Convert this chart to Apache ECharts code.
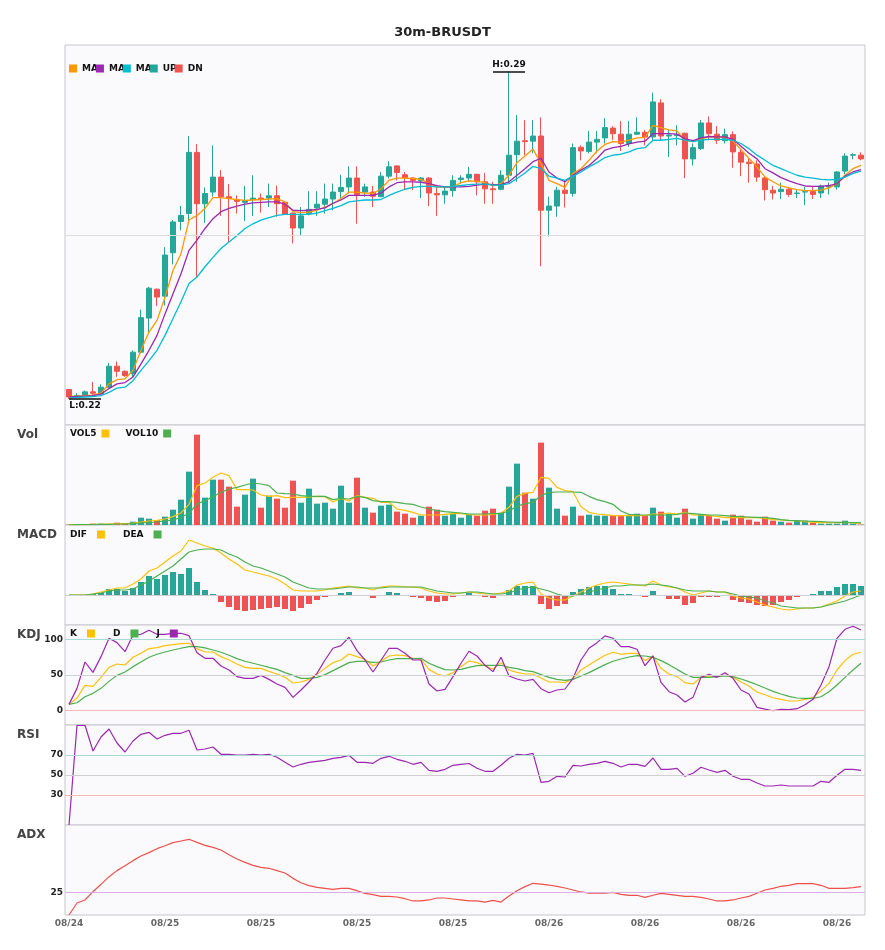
<!DOCTYPE html>
<html>
<head>
<meta charset="utf-8">
<title>30m-BRUSDT</title>
<script src="https://cdn.jsdelivr.net/npm/echarts@6.0.0/dist/echarts.min.js"></script>
<style>
  html, body { margin: 0; padding: 0; background: #fff; }
  #chart { width: 885px; height: 950px; }
</style>
</head>
<body>
<div id="chart"></div>
<script>
// price candles (30m bars)
const opens = [0.2218,0.2202,0.2203,0.2213,0.2209,0.2223,0.2268,0.2257,0.2252,0.2298,
  0.2371,0.2433,0.2418,0.2511,0.2578,0.2595,0.2726,0.2616,0.2641,0.2673,
  0.2631,0.2625,0.2619,0.2625,0.2628,0.2628,0.2633,0.2619,0.2596,0.2564,
  0.2595,0.2607,0.2615,0.2626,0.2642,0.2652,0.2671,0.2641,0.2641,0.2631,
  0.2675,0.2697,0.2678,0.2671,0.2665,0.2671,0.2638,0.2635,0.2644,0.2668,
  0.2671,0.2679,0.2663,0.2648,0.2647,0.2677,0.2721,0.2751,0.2750,0.2761,
  0.2602,0.2611,0.2645,0.2638,0.2737,0.2728,0.2748,0.2757,0.2778,0.2765,
  0.2745,0.2765,0.2769,0.2759,0.2832,0.2761,0.2762,0.2767,0.2712,0.2734,
  0.2789,0.2765,0.2751,0.2764,0.2726,0.2705,0.2701,0.2671,0.2645,0.2642,
  0.2647,0.2638,0.2641,0.2642,0.2639,0.2652,0.2652,0.2686,0.2720,0.2720];
const closes = [0.2202,0.2205,0.2213,0.2210,0.2223,0.2268,0.2257,0.2248,0.2298,0.2372,
  0.2435,0.2416,0.2506,0.2577,0.2591,0.2726,0.2616,0.2638,0.2673,0.2631,
  0.2627,0.2621,0.2623,0.2628,0.2625,0.2633,0.2616,0.2594,0.2564,0.2590,
  0.2604,0.2615,0.2626,0.2641,0.2651,0.2671,0.2636,0.2652,0.2632,0.2675,
  0.2695,0.2683,0.2672,0.2666,0.2671,0.2639,0.2635,0.2643,0.2666,0.2671,
  0.2679,0.2663,0.2648,0.2646,0.2677,0.2720,0.2750,0.2749,0.2761,0.2602,
  0.2611,0.2645,0.2638,0.2736,0.2729,0.2748,0.2754,0.2779,0.2766,0.2745,
  0.2765,0.2769,0.2759,0.2834,0.2761,0.2763,0.2764,0.2712,0.2736,0.2789,
  0.2766,0.2752,0.2764,0.2727,0.2705,0.2702,0.2673,0.2646,0.2639,0.2647,
  0.2636,0.2639,0.2642,0.2636,0.2654,0.2654,0.2684,0.2718,0.2721,0.2712];
const highs = [0.2219,0.2210,0.2216,0.2234,0.2229,0.2275,0.2278,0.2259,0.2302,0.2389,
  0.2438,0.2434,0.2523,0.2581,0.2611,0.2761,0.2744,0.2651,0.2741,0.2688,
  0.2658,0.2634,0.2654,0.2677,0.2638,0.2659,0.2655,0.2620,0.2597,0.2609,
  0.2643,0.2643,0.2659,0.2659,0.2678,0.2696,0.2696,0.2659,0.2654,0.2684,
  0.2707,0.2698,0.2684,0.2673,0.2673,0.2673,0.2652,0.2652,0.2677,0.2677,
  0.2695,0.2680,0.2682,0.2663,0.2688,0.2899,0.2806,0.2795,0.2795,0.2801,
  0.2631,0.2652,0.2666,0.2745,0.2741,0.2772,0.2772,0.2799,0.2782,0.2793,
  0.2793,0.2801,0.2774,0.2854,0.2840,0.2775,0.2784,0.2768,0.2745,0.2795,
  0.2803,0.2782,0.2777,0.2771,0.2734,0.2713,0.2709,0.2675,0.2654,0.2661,
  0.2652,0.2647,0.2652,0.2652,0.2657,0.2661,0.2686,0.2724,0.2724,0.2726];
const lows = [0.2198,0.2200,0.2202,0.2203,0.2208,0.2220,0.2245,0.2245,0.2245,0.2295,
  0.2338,0.2397,0.2398,0.2486,0.2559,0.2577,0.2459,0.2575,0.2631,0.2590,
  0.2534,0.2595,0.2579,0.2590,0.2597,0.2609,0.2588,0.2593,0.2531,0.2548,
  0.2591,0.2590,0.2595,0.2602,0.2626,0.2638,0.2573,0.2631,0.2609,0.2631,
  0.2670,0.2666,0.2645,0.2645,0.2628,0.2611,0.2590,0.2616,0.2631,0.2659,
  0.2663,0.2634,0.2616,0.2616,0.2645,0.2659,0.2663,0.2720,0.2724,0.2482,
  0.2546,0.2588,0.2608,0.2631,0.2709,0.2724,0.2724,0.2745,0.2752,0.2729,
  0.2738,0.2763,0.2741,0.2752,0.2752,0.2716,0.2741,0.2671,0.2698,0.2731,
  0.2752,0.2744,0.2745,0.2693,0.2675,0.2661,0.2663,0.2623,0.2625,0.2626,
  0.2631,0.2628,0.2613,0.2626,0.2628,0.2636,0.2646,0.2679,0.2711,0.2709];

const ma5 = [0.2203,0.2204,0.2205,0.2206,0.2210,0.2230,0.2239,0.2241,0.2259,0.2302,
  0.2341,0.2366,0.2416,0.2473,0.2509,0.2581,0.2591,0.2606,0.2629,0.2629,
  0.2627,0.2625,0.2623,0.2624,0.2625,0.2626,0.2627,0.2620,0.2599,0.2597,
  0.2598,0.2602,0.2609,0.2616,0.2627,0.2641,0.2641,0.2639,0.2638,0.2648,
  0.2666,0.2671,0.2671,0.2670,0.2668,0.2659,0.2652,0.2651,0.2652,0.2661,
  0.2665,0.2664,0.2661,0.2655,0.2659,0.2677,0.2704,0.2718,0.2733,0.2702,
  0.2666,0.2659,0.2651,0.2681,0.2691,0.2709,0.2729,0.2743,0.2749,0.2748,
  0.2752,0.2757,0.2758,0.2784,0.2779,0.2774,0.2772,0.2752,0.2749,0.2755,
  0.2759,0.2759,0.2758,0.2750,0.2732,0.2713,0.2695,0.2673,0.2663,0.2654,
  0.2650,0.2646,0.2644,0.2644,0.2645,0.2650,0.2659,0.2677,0.2691,0.2698];
const ma10 = [0.2202,0.2203,0.2204,0.2205,0.2208,0.2220,0.2230,0.2233,0.2245,0.2273,
  0.2302,0.2334,0.2380,0.2423,0.2466,0.2516,0.2538,0.2563,0.2584,0.2599,
  0.2606,0.2611,0.2615,0.2618,0.2619,0.2620,0.2620,0.2615,0.2602,0.2601,
  0.2602,0.2604,0.2607,0.2617,0.2624,0.2634,0.2634,0.2634,0.2634,0.2639,
  0.2652,0.2661,0.2663,0.2663,0.2662,0.2659,0.2655,0.2652,0.2652,0.2652,
  0.2653,0.2656,0.2658,0.2657,0.2657,0.2663,0.2677,0.2691,0.2706,0.2713,
  0.2684,0.2671,0.2663,0.2677,0.2688,0.2698,0.2713,0.2731,0.2736,0.2739,
  0.2744,0.2748,0.2750,0.2766,0.2766,0.2766,0.2765,0.2755,0.2751,0.2757,
  0.2760,0.2759,0.2759,0.2754,0.2739,0.2724,0.2712,0.2691,0.2682,0.2672,
  0.2665,0.2659,0.2654,0.2653,0.2653,0.2655,0.2659,0.2675,0.2684,0.2689];
const ma20 = [0.2200,0.2201,0.2202,0.2203,0.2205,0.2212,0.2221,0.2223,0.2237,0.2259,
  0.2280,0.2302,0.2334,0.2370,0.2406,0.2445,0.2459,0.2481,0.2501,0.2520,
  0.2534,0.2548,0.2563,0.2573,0.2581,0.2586,0.2591,0.2593,0.2593,0.2593,
  0.2593,0.2596,0.2601,0.2606,0.2612,0.2620,0.2622,0.2624,0.2624,0.2625,
  0.2634,0.2641,0.2647,0.2651,0.2653,0.2653,0.2652,0.2652,0.2653,0.2655,
  0.2657,0.2658,0.2658,0.2656,0.2656,0.2659,0.2670,0.2682,0.2696,0.2691,
  0.2675,0.2671,0.2666,0.2675,0.2684,0.2695,0.2704,0.2715,0.2720,0.2722,
  0.2727,0.2734,0.2736,0.2752,0.2752,0.2754,0.2756,0.2752,0.2749,0.2752,
  0.2754,0.2754,0.2754,0.2752,0.2745,0.2734,0.2720,0.2709,0.2698,0.2691,
  0.2684,0.2677,0.2673,0.2671,0.2668,0.2667,0.2668,0.2673,0.2681,0.2686];

// volume (thousands)
const volumes = [1,1,1,4,4,3,7,3,10,22, 19,15,25,46,76,160,271,82,136,136,
  115,55,91,139,52,88,79,52,133,67, 109,64,67,49,118,67,142,52,37,58,
  61,40,34,22,28,55,46,28,34,22, 31,28,43,49,37,115,184,97,79,247,
  112,49,28,55,28,31,28,28,28,28, 28,34,28,52,40,34,22,49,19,31,
  28,19,13,31,28,16,10,25,13,10, 7,13,13,7,4,4,4,13,4,1];
const vol5 = [1,1,1,2,2,3,4,4,6,9, 12,14,18,25,36,62,118,126,143,156,
  148,106,106,105,90,86,88,82,83,83, 84,86,85,69,80,72,88,83,80,68,
  68,48,44,38,30,30,30,32,34,34, 31,30,30,32,36,53,86,95,98,143,
  140,113,103,100,55,38,33,31,28,28, 28,28,28,33,33,36,33,38,30,30,
  28,26,22,22,22,22,22,20,16,15, 13,13,10,8,7,7,7,8,6,5];
const vol10 = [0,1,1,1,2,2,3,3,4,6, 8,9,12,15,23,35,63,73,85,98,
  108,113,120,126,123,118,96,94,93,88, 86,86,86,76,80,78,86,83,73,70,
  70,68,64,62,54,48,43,40,38,36, 33,33,33,34,35,42,56,64,68,88,
  98,99,99,99,98,86,76,70,62,42, 32,30,30,30,30,30,32,36,34,32,
  30,30,28,26,25,24,23,22,20,16, 14,13,12,11,10,9,8,8,7,7];

const dif = [0,0,0,0.0001,0.0003,0.0005,0.0007,0.0007,0.0011,0.0016,
  0.0024,0.0027,0.0033,0.0039,0.0044,0.0055,0.0052,0.0049,0.0047,0.0042,
  0.0036,0.0031,0.0025,0.0023,0.0021,0.0019,0.0016,0.0011,0.0005,0.0004,
  0.0004,0.0004,0.0005,0.0007,0.0008,0.0009,0.0007,0.0007,0.0005,0.0008,
  0.0009,0.0009,0.0008,0.0008,0.0007,0.0004,0.0002,0.0001,0.0001,0.0002,
  0.0003,0.0002,0.0001,0.0001,0.0002,0.0004,0.0010,0.0012,0.0013,0.0001,
  -0.0003,-0.0005,-0.0005,-0.0001,0.0003,0.0007,0.0010,0.0012,0.0013,0.0012,
  0.0011,0.0010,0.0009,0.0014,0.0010,0.0008,0.0007,0.0003,0.0000,0.0002,
  0.0004,0.0003,0.0003,-0.0001,-0.0003,-0.0004,-0.0007,-0.0010,-0.0012,-0.0014,
  -0.0015,-0.0014,-0.0013,-0.0013,-0.0012,-0.0009,-0.0006,-0.0001,0.0003,0.0004];
const dea = [0,0,0,0.0001,0.0002,0.0004,0.0005,0.0005,0.0006,0.0010,
  0.0014,0.0019,0.0024,0.0029,0.0036,0.0043,0.0045,0.0046,0.0046,0.0045,
  0.0041,0.0038,0.0033,0.0029,0.0027,0.0024,0.0021,0.0018,0.0013,0.0010,
  0.0007,0.0006,0.0006,0.0006,0.0007,0.0008,0.0008,0.0007,0.0007,0.0007,
  0.0008,0.0008,0.0008,0.0008,0.0008,0.0006,0.0004,0.0003,0.0002,0.0002,
  0.0003,0.0003,0.0002,0.0001,0.0001,0.0002,0.0005,0.0007,0.0008,0.0006,
  0.0004,0.0001,-0.0001,-0.0001,0.0001,0.0003,0.0005,0.0007,0.0009,0.0009,
  0.0010,0.0010,0.0010,0.0011,0.0010,0.0009,0.0007,0.0005,0.0004,0.0004,
  0.0004,0.0003,0.0003,0.0001,-0.0001,-0.0002,-0.0003,-0.0006,-0.0008,-0.0011,
  -0.0012,-0.0013,-0.0013,-0.0013,-0.0012,-0.0010,-0.0008,-0.0006,-0.0003,0.0000];
const macdHist = [0,0,0,0.0001,0.0002,0.0006,0.0006,0.0004,0.0007,0.0013,
  0.0019,0.0016,0.0020,0.0023,0.0021,0.0027,0.0013,0.0005,0.0001,-0.0007,
  -0.0012,-0.0015,-0.0016,-0.0015,-0.0014,-0.0013,-0.0012,-0.0014,-0.0016,-0.0013,
  -0.0009,-0.0005,-0.0002,0,0.0002,0.0003,0,-0.0001,-0.0003,0,
  0.0003,0.0002,0,-0.0002,-0.0003,-0.0006,-0.0007,-0.0006,-0.0002,0,
  0.0002,0,-0.0002,-0.0003,0,0.0005,0.0009,0.0009,0.0009,-0.0009,
  -0.0014,-0.0011,-0.0009,0.0003,0.0006,0.0008,0.0009,0.0009,0.0006,0.0001,
  0.0001,0,-0.0002,0.0004,-0.0001,-0.0004,-0.0004,-0.0010,-0.0008,-0.0002,
  -0.0002,-0.0002,-0.0001,-0.0005,-0.0007,-0.0008,-0.0010,-0.0011,-0.0010,-0.0007,
  -0.0005,-0.0002,0,0.0001,0.0004,0.0004,0.0008,0.0011,0.0011,0.0009];

const kLine = [8.9,17.8,35.5,34.1,46.7,60.7,65.4,64.0,74.8,80.4,
  86.9,88.3,91.1,92.5,93.9,94.4,86.9,82.2,82.2,75.7,
  71.0,65.4,60.7,59.3,59.3,55.1,51.4,46.7,38.8,40.2,
  43.9,50.9,59.3,67.3,71.0,79.4,75.7,72.0,62.6,69.2,
  76.6,78.0,77.1,73.4,72.0,57.9,51.4,48.6,53.3,61.7,
  69.6,67.3,62.6,58.4,67.3,57.0,53.7,51.4,51.4,45.8,
  40.2,40.2,39.3,45.3,57.0,64.0,71.0,77.6,81.8,79.0,
  80.4,80.4,70.1,76.6,59.3,51.4,47.7,39.3,37.4,46.7,
  48.6,47.7,50.0,46.7,40.2,34.6,26.2,22.4,18.2,15.9,
  13.6,13.6,15.9,18.7,28.0,38.3,57.0,70.1,79.0,81.8];
const dLine = [8.9,11.2,19.6,24.3,31.3,41.1,49.5,54.2,61.7,68.2,
  74.8,79.0,82.2,85.0,87.4,89.7,89.7,87.9,85.0,81.8,
  77.6,72.9,69.2,66.4,63.6,60.7,57.9,53.3,49.5,45.3,
  45.3,46.7,50.5,56.1,61.7,67.3,69.2,69.2,67.8,68.2,
  71.0,72.9,72.9,72.9,73.4,66.4,61.7,57.5,57.0,57.9,
  60.7,63.1,63.6,63.6,63.6,60.7,58.9,56.1,54.7,50.5,
  46.7,43.9,42.5,43.9,48.6,53.3,58.9,64.5,69.2,72.4,
  75.2,77.1,76.6,74.8,70.1,64.5,57.9,51.4,46.7,46.7,
  46.7,47.7,48.6,47.7,44.4,40.7,36.4,31.8,27.1,23.4,
  20.1,17.8,17.3,17.3,19.6,26.6,36.0,46.7,57.0,66.4];
const jLine = [8.9,31.3,68.2,53.7,75.7,101.4,95.3,82.7,106.1,107.0,
  112.6,107.0,107.0,108.4,108.4,105.1,81.3,73.4,73.4,62.6,
  57.0,47.7,45.3,45.3,49.5,43.9,37.4,32.7,18.7,29.0,
  40.2,52.3,71.0,87.4,91.1,102.8,84.1,71.0,54.2,70.6,
  87.4,87.4,80.4,71.0,71.0,37.4,27.6,29.9,47.7,66.4,
  83.2,76.6,63.6,54.7,74.8,48.6,44.4,41.6,43.9,30.8,
  25.2,29.0,30.4,45.3,71.0,87.4,95.3,104.7,101.4,89.7,
  89.7,86.0,63.1,76.6,39.7,26.6,22.0,12.1,18.7,46.7,
  50.9,46.7,53.3,45.3,29.0,23.4,4.7,2.3,0,1.9,
  1.4,2.8,8.4,15.9,36.0,61.7,101.4,114.0,118.2,113.1];

const rsi = [0,99.7,99.7,74,88,96,82,73,84,90.7,
  92.7,86,89.7,91.7,91.7,94.7,75,76,78,70.7,
  70.7,70,70,70.7,70,70.7,67.7,62.7,58,60.7,
  62.7,63.7,64.7,66.7,67.7,69.7,62.7,62.7,61.7,66.7,
  68.7,65.7,63.7,60.7,62.7,54.7,53.7,55.7,59.7,60.7,
  61.5,56.7,53.7,53.7,59.7,66.7,70.7,70,71.7,42.7,
  43.7,48.7,48,59.7,59,60.7,61.7,63.7,61.7,58,
  60.7,60.7,58.7,67,55.7,55.7,56.7,48.7,51.7,57.7,
  55,52.7,54.7,48.7,45.7,45.7,42,39,39,40,
  39,39,39,39,43.7,42.7,49.7,55.7,55.7,54.7];
const adx = [0,13.3,16.7,25.9,34.1,42.6,49.3,54.8,60.4,65.6,
  69.3,73.7,77,80.4,82.2,84.1,80.7,77.4,75.2,72.2,
  67,62.2,58.5,55.2,53,51.9,49.3,46.7,40.7,35.9,
  32.6,30.7,29.6,28.5,29.6,29.6,27,24,22.6,20.7,
  20.7,20,18.1,15.6,15.6,16.7,18.9,18.9,17.8,16.7,
  15.6,15.6,14.4,16.3,14.4,21.1,27,31.5,35.2,34.4,
  33.3,31.9,30,27.8,25.6,24.4,24.4,24.4,25.2,23,
  21.9,21.9,19.6,21.9,24.1,23,21.9,20.7,20.7,19.6,
  17.8,15.6,15.6,16.7,18.9,20.7,24.1,27.8,29.6,31.9,
  33,34.8,34.8,34.8,33,29.6,29.6,29.6,30.4,31.5];

// bar times: 30 minute steps from 08/24 20:00
const times = [];
(function () {
  const pad = n => String(n).padStart(2, '0');
  const start = Date.UTC(2024, 7, 24, 20, 0);
  for (let i = 0; i < closes.length; i++) {
    const d = new Date(start + i * 30 * 60000);
    times.push(pad(d.getUTCMonth() + 1) + '/' + pad(d.getUTCDate()) + ' ' +
      pad(d.getUTCHours()) + ':' + pad(d.getUTCMinutes()));
  }
})();

const UP = '#26a69a';
const DN = '#ef5350';
const FONT = 'DejaVu Sans';

const panels = [
  { top: 45, height: 380 },
  { top: 425, height: 100, title: 'Vol' },
  { top: 525, height: 100, title: 'MACD' },
  { top: 625, height: 100, title: 'KDJ' },
  { top: 725, height: 100, title: 'RSI' },
  { top: 825, height: 90, title: 'ADX' }
];

const chart = echarts.init(document.getElementById('chart'));

const hiVal = Math.max(...highs);
const hiIdx = highs.indexOf(hiVal);
const loVal = Math.min(...lows);
const loIdx = lows.indexOf(loVal);
const priceMin = 0.2142;
const priceMax = 0.2956;

function hLine(value, color) {
  return { yAxis: value, lineStyle: { color: color, width: 1, type: 'solid' }, label: { show: false } };
}

function markLines(list) {
  return {
    silent: true,
    symbol: ['none', 'none'],
    precision: 4,
    animation: false,
    data: list.map(([v, c]) => hLine(v, c))
  };
}

function line(name, data, color, axis, width) {
  return {
    name: name,
    type: 'line',
    xAxisIndex: axis,
    yAxisIndex: axis,
    data: data,
    showSymbol: false,
    symbol: 'none',
    itemStyle: { color: color },
    lineStyle: { color: color, width: width || 1.2 },
    z: 3
  };
}

const labelText = { fontFamily: FONT, fontSize: 9, fontWeight: 'bold', color: '#111' };
const maText = { width: 18, overflow: 'truncate', ellipsis: '' };

const yBase = { axisLine: { show: false }, axisTick: { show: false }, splitLine: { show: false } };
const yLabel = keep => ({
  show: true, margin: 2, color: '#222', fontSize: 9, fontWeight: 'bold', fontFamily: FONT,
  formatter: v => (keep.indexOf(Math.round(v)) >= 0 && Math.abs(v - Math.round(v)) < 1e-6) ? String(Math.round(v)) : ''
});

chart.setOption({
  animation: false,
  backgroundColor: '#ffffff',
  textStyle: { fontFamily: FONT },
  title: [{
    text: '30m-BRUSDT', left: 'center', top: 21,
    textStyle: { fontFamily: FONT, fontSize: 13, fontWeight: 'bold', color: '#222' }
  }].concat(panels.filter(p => p.title).map(p => ({
    text: p.title, left: 12, top: p.top - 1,
    textStyle: { fontFamily: FONT, fontSize: 12, fontWeight: 'bold', color: '#444' }
  }))),
  tooltip: { trigger: 'axis', axisPointer: { type: 'line' } },
  legend: [
    {
      left: 69, top: 64, padding: 0, itemWidth: 8, itemHeight: 8, itemGap: -2, icon: 'rect',
      textStyle: labelText,
      data: [
        { name: 'MA5', textStyle: maText },
        { name: 'MA10', textStyle: maText },
        { name: 'MA20', textStyle: maText },
        'UP',
        'DN'
      ]
    },
    {
      left: 70, top: 429, padding: 0, align: 'right', itemWidth: 8, itemHeight: 8, itemGap: 16, icon: 'rect',
      textStyle: labelText, data: ['VOL5', 'VOL10']
    },
    {
      left: 70, top: 530, padding: 0, align: 'right', itemWidth: 8, itemHeight: 8, itemGap: 18, icon: 'rect',
      textStyle: Object.assign({ padding: [0, 5, 0, 0] }, labelText), data: ['DIF', 'DEA']
    },
    {
      left: 70, top: 629, padding: 0, align: 'right', itemWidth: 8, itemHeight: 8, itemGap: 18, icon: 'rect',
      textStyle: Object.assign({ padding: [0, 5, 0, 0] }, labelText), data: ['K', 'D', 'J']
    }
  ],
  grid: panels.map(p => ({
    left: 65, right: 20, top: p.top, height: p.height,
    show: true, backgroundColor: '#fafafc', borderColor: '#c6c6cc', borderWidth: 1,
    containLabel: false, outerBoundsMode: 'none'
  })),
  xAxis: panels.map((p, k) => ({
    type: 'category',
    gridIndex: k,
    data: times,
    boundaryGap: true,
    axisLine: { show: false },
    axisTick: { show: false },
    splitLine: { show: false },
    axisLabel: k === panels.length - 1 ? {
      show: true, interval: 11, margin: 4, color: '#666', fontSize: 9, fontWeight: 'bold', fontFamily: FONT,
      formatter: v => v.slice(0, 5)
    } : { show: false }
  })),
  yAxis: [
    Object.assign({ gridIndex: 0, min: priceMin, max: priceMax, axisLabel: { show: false } }, yBase),
    Object.assign({ gridIndex: 1, min: 0, max: 300, axisLabel: { show: false } }, yBase),
    Object.assign({ gridIndex: 2, min: -0.003, max: 0.007, axisLabel: { show: false } }, yBase),
    Object.assign({ gridIndex: 3, min: -20, max: 120, interval: 10, axisLabel: yLabel([0, 50, 100]) }, yBase),
    Object.assign({ gridIndex: 4, min: 0, max: 100, interval: 10, axisLabel: yLabel([30, 50, 70]) }, yBase),
    Object.assign({ gridIndex: 5, min: 0, max: 100, interval: 25, axisLabel: yLabel([25]) }, yBase)
  ],
  series: [
    {
      name: 'BRUSDT',
      type: 'candlestick',
      xAxisIndex: 0,
      yAxisIndex: 0,
      barWidth: 6,
      data: opens.map((o, i) => [o, closes[i], lows[i], highs[i]]),
      itemStyle: { color: UP, color0: DN, borderColor: UP, borderColor0: DN, borderWidth: 1 },
      markLine: {
        silent: true,
        symbol: ['none', 'none'],
        precision: 4,
        animation: false,
        data: [
          hLine((priceMin + priceMax) / 2, '#dcdcdc'),
          [
            {
              coord: [times[hiIdx - 2], hiVal],
              lineStyle: { color: '#111', width: 1.5, type: 'solid' },
              label: { show: true, position: 'insideMiddleTop', distance: 2, formatter: 'H:' + hiVal.toFixed(2), fontFamily: FONT, fontSize: 9, fontWeight: 'bold', color: '#111' }
            },
            { coord: [times[hiIdx + 2], hiVal] }
          ],
          [
            {
              coord: [times[loIdx], loVal],
              lineStyle: { color: '#111', width: 1.5, type: 'solid' },
              label: { show: true, position: 'insideMiddleBottom', distance: 2, formatter: 'L:' + loVal.toFixed(2), fontFamily: FONT, fontSize: 9, fontWeight: 'bold', color: '#111' }
            },
            { coord: [times[loIdx + 4], loVal] }
          ]
        ]
      }
    },
    line('MA5', ma5, '#ff9800', 0, 1.3),
    line('MA10', ma10, '#9c27b0', 0, 1.3),
    line('MA20', ma20, '#00bcd4', 0, 1.3),
    { name: 'UP', type: 'line', xAxisIndex: 0, yAxisIndex: 0, data: [], itemStyle: { color: UP }, lineStyle: { color: UP } },
    { name: 'DN', type: 'line', xAxisIndex: 0, yAxisIndex: 0, data: [], itemStyle: { color: DN }, lineStyle: { color: DN } },
    {
      name: 'Volume',
      type: 'bar',
      xAxisIndex: 1,
      yAxisIndex: 1,
      barWidth: 6,
      data: volumes.map((v, i) => ({ value: v, itemStyle: { color: closes[i] >= opens[i] ? UP : DN } }))
    },
    line('VOL5', vol5, '#ffc107', 1, 1.2),
    line('VOL10', vol10, '#4caf50', 1, 1.2),
    {
      name: 'MACD',
      type: 'bar',
      xAxisIndex: 2,
      yAxisIndex: 2,
      barWidth: 6,
      data: macdHist.map(v => ({ value: v, itemStyle: { color: v >= 0 ? UP : DN } })),
      markLine: markLines([[0, '#d0d0d0']])
    },
    line('DIF', dif, '#ffc107', 2, 1.2),
    line('DEA', dea, '#4caf50', 2, 1.2),
    Object.assign(line('K', kLine, '#ffc107', 3, 1.2), {
      markLine: markLines([[100, '#a6dad5'], [50, '#cfcfcf'], [0, '#f7b8b8']])
    }),
    line('D', dLine, '#4caf50', 3, 1.2),
    line('J', jLine, '#9c27b0', 3, 1.2),
    Object.assign(line('RSI', rsi, '#9c27b0', 4, 1.2), {
      markLine: markLines([[70, '#a6dad5'], [50, '#cfcfcf'], [30, '#f7b8b8']])
    }),
    Object.assign(line('ADX', adx, '#f0504a', 5, 1.2), {
      markLine: markLines([[25, '#dcaee6']])
    })
  ]
});

window.addEventListener('resize', () => chart.resize());
</script>
</body>
</html>
